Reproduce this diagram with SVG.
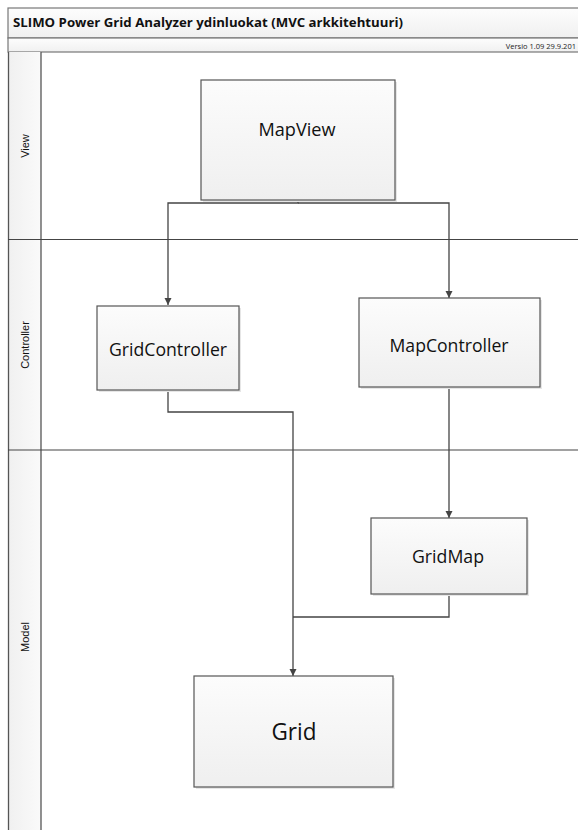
<svg xmlns="http://www.w3.org/2000/svg" width="578" height="830" viewBox="0 0 578 830">
<defs>
<linearGradient id="box" x1="0" y1="0" x2="0" y2="1"><stop offset="0" stop-color="#fcfcfc"/><stop offset="1" stop-color="#efefef"/></linearGradient>
<linearGradient id="lane" x1="0" y1="0" x2="1" y2="0"><stop offset="0" stop-color="#f0f0f0"/><stop offset="1" stop-color="#fafafa"/></linearGradient>
<linearGradient id="bar" x1="0" y1="0" x2="0" y2="1"><stop offset="0" stop-color="#fdfdfd"/><stop offset="1" stop-color="#f0f0f0"/></linearGradient>
<marker id="arr" markerWidth="8" markerHeight="8" refX="7" refY="4" orient="auto" markerUnits="userSpaceOnUse"><path d="M0,0.5 L7,4 L0,7.5 z" fill="#444"/></marker>
</defs>
<style>
.frame{fill:none;stroke:#555;stroke-width:1.3}
.sep{stroke:#444;stroke-width:1.2}
.node rect.s{fill:#e6e6e6}
.node rect.b{fill:url(#box);stroke:#555;stroke-width:1.2}
.node text{font-family:"Open Sans","DejaVu Sans",sans-serif;fill:#111;text-anchor:middle;dominant-baseline:central}
.lbl{font-family:"Liberation Sans",Arial,sans-serif;font-size:11px;fill:#111;text-anchor:middle;dominant-baseline:central}
#connectors path{fill:none;stroke:#444;stroke-width:1.3}
</style>
<rect width="578" height="830" fill="#fff"/>
<rect x="8" y="8" width="572" height="30" fill="url(#bar)" stroke="#777" stroke-width="1.2"/>
<text x="13" y="27" font-family="'Open Sans','DejaVu Sans',sans-serif" font-weight="bold" font-size="12.5" fill="#111" textLength="390" lengthAdjust="spacingAndGlyphs">SLIMO Power Grid Analyzer ydinluokat (MVC arkkitehtuuri)</text>
<rect x="8" y="38" width="572" height="14" fill="url(#bar)" stroke="#777" stroke-width="1.2"/>
<text x="576" y="48.5" font-family="'Open Sans','DejaVu Sans',sans-serif" font-size="7.5" fill="#222" text-anchor="end">Versio 1.09 29.9.201</text>
<rect x="8" y="52" width="33" height="790" fill="url(#lane)"/>
<line x1="8.5" y1="52" x2="8.5" y2="830" class="frame"/>
<line x1="41" y1="52" x2="41" y2="830" class="frame"/>
<line x1="8" y1="239.5" x2="578" y2="239.5" class="sep"/>
<line x1="8" y1="450" x2="578" y2="450" class="sep"/>
<text class="lbl" transform="translate(25,146) rotate(-90)">View</text>
<text class="lbl" transform="translate(25,345) rotate(-90)">Controller</text>
<text class="lbl" transform="translate(25,637) rotate(-90)">Model</text>
<g id="connectors">
<path d="M298,200 V203 H168 V305" marker-end="url(#arr)"/>
<path d="M298,203 H449 V298" marker-end="url(#arr)"/>
<path d="M168,390 V412 H293 V676" marker-end="url(#arr)"/>
<path d="M449,388 V518" marker-end="url(#arr)"/>
<path d="M449,594 V617 H293"/>
</g>
<g id="MapView" class="node"><rect class="s" x="203" y="82" width="194" height="120"/><rect class="b" x="201" y="80" width="194" height="120"/><text x="297" y="129" font-size="18" textLength="77" lengthAdjust="spacingAndGlyphs">MapView</text></g>
<g id="GridController" class="node"><rect class="s" x="99" y="308" width="142" height="84"/><rect class="b" x="97" y="306" width="142" height="84"/><text x="168" y="349" font-size="17.5" textLength="118" lengthAdjust="spacingAndGlyphs">GridController</text></g>
<g id="MapController" class="node"><rect class="s" x="361" y="300" width="181" height="89"/><rect class="b" x="359" y="298" width="181" height="89"/><text x="449" y="345" font-size="17.5" textLength="119" lengthAdjust="spacingAndGlyphs">MapController</text></g>
<g id="GridMap" class="node"><rect class="s" x="373" y="520" width="156" height="76"/><rect class="b" x="371" y="518" width="156" height="76"/><text x="448" y="556" font-size="17.5" textLength="72" lengthAdjust="spacingAndGlyphs">GridMap</text></g>
<g id="Grid" class="node"><rect class="s" x="196" y="678" width="199" height="111"/><rect class="b" x="194" y="676" width="199" height="111"/><text x="294" y="731" font-size="23" textLength="45" lengthAdjust="spacingAndGlyphs">Grid</text></g>
</svg>
